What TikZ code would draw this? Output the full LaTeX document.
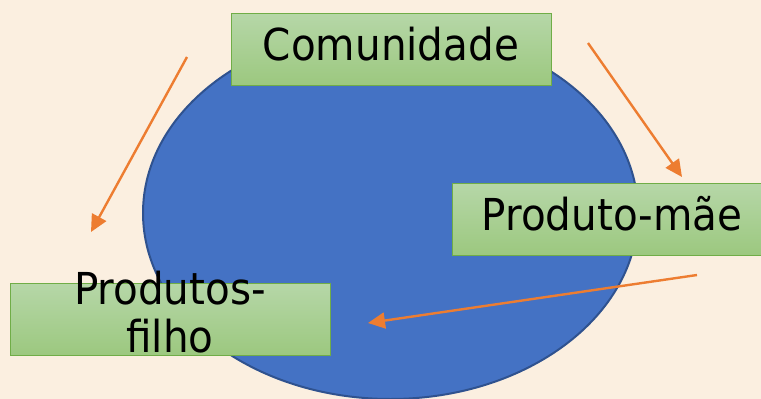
\documentclass[tikz,border=0pt]{standalone}
\usepackage{fontspec}
\setmainfont{DejaVu Sans}[FakeStretch=0.92]
\usetikzlibrary{arrows.meta,shapes.geometric}
\definecolor{bg}{HTML}{FBEFE0}
\definecolor{blobfill}{HTML}{4472C4}
\definecolor{blobline}{HTML}{2F528F}
\definecolor{boxtop}{HTML}{B6D7A8}
\definecolor{boxbot}{HTML}{9CC87F}
\definecolor{boxline}{HTML}{70AD47}
\definecolor{arrowc}{HTML}{ED7D31}
\tikzset{
  greenbox/.style={rectangle, draw=boxline, line width=1pt, top color=boxtop, bottom color=boxbot,
    minimum width=320pt, minimum height=72pt, inner sep=0pt},
  bigtext/.style={font=\fontsize{44}{48}\selectfont, text=black},
  flowarrow/.style={draw=arrowc, line width=2.4pt, -{Triangle[length=17pt,width=16pt]}}
}
\begin{document}
\begin{tikzpicture}[x=1pt,y=-1pt]
\fill[bg] (0,0) rectangle (761,399);
\useasboundingbox (0,0) rectangle (761,399);
\begin{scope}
\clip (0,0) rectangle (761,399);
\node[ellipse, draw=blobline, line width=2pt, fill=blobfill, minimum width=495pt, minimum height=372pt, inner sep=0pt] (blob) at (390.5,213) {};
\node[greenbox, bigtext, text height=33.4pt, text depth=11.4pt] (com) at (391,49) {Comunidade};
\node[greenbox, bigtext, text height=33.4pt, text depth=11.4pt] (mae) at (612,219) {Produto-mãe};
\node[greenbox] (filho) at (170,319) {};
\node[bigtext, align=center, inner sep=0pt] (filhotxt) at (170,312.3) {Produtos-\\filho};
\coordinate (a1s) at (187,57);
\coordinate (a1e) at (91,232);
\coordinate (a2s) at (588,43);
\coordinate (a2e) at (682,177);
\coordinate (a3s) at (697,275);
\coordinate (a3e) at (368,323);
\draw[flowarrow] (a1s) -- (a1e);
\draw[flowarrow] (a2s) -- (a2e);
\draw[flowarrow] (a3s) -- (a3e);
\end{scope}
\end{tikzpicture}
\end{document}
